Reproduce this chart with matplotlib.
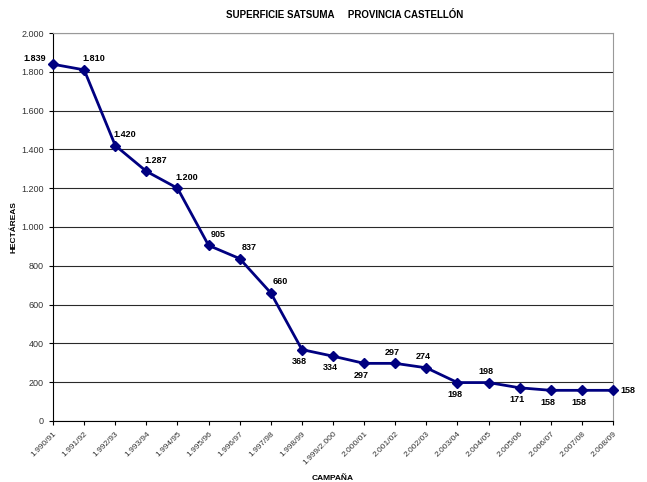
import matplotlib
matplotlib.use('Agg')
import matplotlib.pyplot as plt
from matplotlib.ticker import FuncFormatter

campanas = ['1.990/91', '1.991/92', '1.992/93', '1.993/94', '1.994/95', '1.995/96',
            '1.996/97', '1.997/98', '1.998/99', '1.999/2.000', '2.000/01', '2.001/02',
            '2.002/03', '2.003/04', '2.004/05', '2.005/06', '2.006/07', '2.007/08', '2.008/09']
hectareas = [1839, 1810, 1420, 1287, 1200, 905, 837, 660, 368, 334, 297, 297,
             274, 198, 198, 171, 158, 158, 158]
# where each value label sits relative to its point
label_pos = ['left', 'above_r', 'above_r', 'above_r', 'above_r', 'above_r', 'above_r', 'above_r',
             'below', 'below', 'below', 'above', 'above', 'below', 'above',
             'below', 'below', 'below', 'right']

offsets = {
    'above_r': ((7, 8), 'center', 'center'),
    'above': ((-2, 8), 'center', 'center'),
    'below': ((-2, -8.5), 'center', 'center'),
    'left': ((-13, 4), 'center', 'center'),
    'right': ((5, 0), 'left', 'center'),
}


def miles(v, pos=None):
    return f'{int(v):,}'.replace(',', '.')


plt.rcParams['font.family'] = ['Liberation Sans', 'DejaVu Sans']

fig = plt.figure(figsize=(6.47, 4.82), dpi=100)
ax = fig.add_axes([0.082, 0.1266, 0.8655, 0.8049])

x = list(range(len(campanas)))
ax.plot(x, hectareas, color='#000080', lw=2, marker='D', ms=5, zorder=3, clip_on=False)

for xi, v, p in zip(x, hectareas, label_pos):
    off, ha, va = offsets[p]
    ax.annotate(miles(v), (xi, v), xytext=off, textcoords='offset points',
                ha=ha, va=va, fontsize=6.5, fontweight='bold')

ax.set_xlim(0, len(campanas) - 1)
ax.set_ylim(0, 2000)
ax.set_yticks(range(0, 2001, 200))
ax.yaxis.set_major_formatter(FuncFormatter(miles))
ax.grid(axis='y', color='#2a2a2a', lw=0.8)
ax.set_axisbelow(True)

ax.set_xticks(x)
ax.set_xticklabels(campanas, rotation=45, ha='right', rotation_mode='anchor', fontsize=6)
ax.tick_params(axis='y', labelsize=6.5, length=3, width=0.8, labelcolor='#333333')
ax.tick_params(axis='x', length=3, width=0.8, labelcolor='#333333')

for s in ['top', 'right']:
    ax.spines[s].set_color('#999999')
for s in ['left', 'bottom']:
    ax.spines[s].set_color('black')

ax.set_xlabel('CAMPAÑA', fontsize=6, fontweight='bold', labelpad=6)
ax.set_ylabel('HECTÁREAS', fontsize=6, fontweight='bold', labelpad=3)
fig.text(345 / 647, 1 - 15 / 482, 'SUPERFICIE SATSUMA     PROVINCIA CASTELLÓN',
         fontsize=7, fontweight='bold', ha='center', va='center')

fig.savefig('out.png', dpi=100)
